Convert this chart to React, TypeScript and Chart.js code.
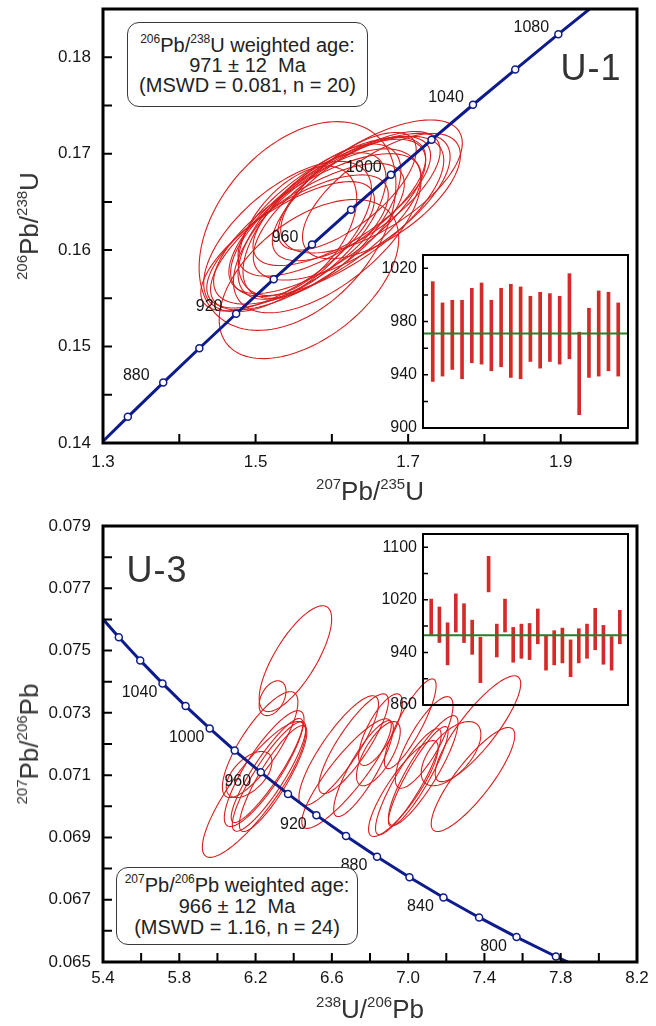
import React, { useEffect, useRef } from 'react';
import { Chart, registerables } from 'chart.js';

Chart.register(...registerables);

const FONT = '"Liberation Sans", Arial, Helvetica, sans-serif';
const RED = '#d81e1e';
const BAR_RED = '#d52a2a';
const BLUE = '#0d1b8c';
const GREEN = '#2a7d2a';
const INK = '#151515';

// ---------------- U-1 : Wetherill concordia ----------------
const u1ConcAges = [840, 860, 880, 900, 920, 940, 960, 980, 1000, 1020, 1040, 1060, 1080, 1100];
const u1ConcX = [1.28707, 1.33257, 1.37897, 1.4263, 1.47456, 1.52378, 1.57399, 1.62519, 1.67741, 1.73067, 1.78499, 1.84039, 1.89689, 1.95451];
const u1ConcY = [0.139176, 0.142715, 0.146266, 0.149828, 0.153401, 0.156985, 0.16058, 0.164187, 0.167804, 0.171433, 0.175073, 0.178724, 0.182387, 0.186061];
const u1ConcLabelAges = [880, 920, 960, 1000, 1040, 1080];

const u1EllX = [1.555, 1.570, 1.652, 1.594, 1.581, 1.568, 1.600, 1.613, 1.555, 1.626, 1.542, 1.587, 1.632, 1.607, 1.574, 1.555, 1.620, 1.665, 1.594, 1.542];
const u1EllY = [0.1625, 0.1570, 0.1666, 0.1635, 0.1622, 0.1614, 0.1645, 0.1651, 0.1609, 0.1645, 0.1604, 0.1630, 0.1656, 0.1635, 0.1625, 0.1620, 0.1661, 0.1656, 0.1620, 0.1614];
const u1EllSX = [0.129, 0.1177, 0.119, 0.129, 0.136, 0.127, 0.123, 0.1164, 0.119, 0.129, 0.1138, 0.1035, 0.110, 0.1397, 0.097, 0.0776, 0.0906, 0.1035, 0.123, 0.110];
const u1EllSY = [0.01082, 0.00825, 0.0069, 0.0080, 0.0078, 0.0076, 0.0072, 0.0067, 0.0069, 0.0076, 0.0067, 0.0080, 0.0067, 0.0083, 0.0076, 0.0067, 0.0061, 0.0065, 0.0085, 0.0078];
const u1EllRho = [0.40, 0.51, 0.65, 0.72, 0.70, 0.72, 0.70, 0.70, 0.70, 0.68, 0.72, 0.65, 0.70, 0.70, 0.65, 0.50, 0.70, 0.65, 0.62, 0.62];

const u1AgeHigh = [1010, 994, 996, 996, 1005, 1009, 996, 1005, 1008, 1006, 999, 1002, 1001, 999, 1016, 972, 990, 1003, 1002, 994];
const u1AgeLow = [935, 939, 944, 937, 949, 948, 943, 946, 938, 937, 950, 945, 950, 948, 952, 910, 938, 939, 943, 939];
const u1Mean = 971;
const u1InsetTicks = [900, 920, 940, 960, 980, 1000, 1020];
const u1InsetTickLabels = [900, 940, 980, 1020];

// ---------------- U-3 : Tera-Wasserburg concordia ----------------
const u3ConcAges = [760, 780, 800, 820, 840, 860, 880, 900, 920, 940, 960, 980, 1000, 1020, 1040, 1060, 1080, 1100];
const u3ConcX = [7.99195, 7.77472, 7.5684, 7.37213, 7.18515, 7.00697, 6.83686, 6.67432, 6.51886, 6.37004, 6.22743, 6.09061, 5.95933, 5.83318, 5.7119, 5.59522, 5.48286, 5.37458];
const u3ConcY = [0.064559, 0.065176, 0.065799, 0.066431, 0.067071, 0.06772, 0.068376, 0.069043, 0.069716, 0.070398, 0.07109, 0.07179, 0.072499, 0.073218, 0.073946, 0.074684, 0.075431, 0.076187];
const u3ConcLabelAges = [800, 840, 880, 920, 960, 1000, 1040];

const u3EllX = [6.409, 6.289, 6.224, 6.192, 6.271, 6.260, 6.292, 6.245, 6.166, 6.636, 6.714, 6.844, 6.677, 6.855, 6.766, 7.366, 7.340, 7.225, 7.001, 7.053, 6.975, 7.079, 7.011, 7.084];
const u3EllY = [0.07474, 0.07347, 0.07198, 0.07054, 0.07096, 0.07115, 0.07089, 0.07121, 0.07102, 0.07179, 0.07201, 0.07169, 0.07105, 0.07246, 0.07121, 0.07249, 0.07086, 0.07169, 0.07079, 0.07096, 0.07057, 0.07115, 0.07265, 0.07205];
const u3EllSX = [0.190, 0.0704, 0.198, 0.271, 0.193, 0.188, 0.177, 0.209, 0.12, 0.2086, 0.1825, 0.1147, 0.2346, 0.1147, 0.1564, 0.2242, 0.219, 0.1564, 0.172, 0.1564, 0.1825, 0.1825, 0.1356, 0.1512];
const u3EllSY = [0.0017, 0.00056, 0.0017, 0.00218, 0.00176, 0.00167, 0.0017, 0.00186, 0.00074, 0.00176, 0.0016, 0.00103, 0.00176, 0.00115, 0.00154, 0.0017, 0.00167, 0.00103, 0.0017, 0.0016, 0.00154, 0.00176, 0.00144, 0.00147];
const u3EllRho = [0.75, 0.4, 0.8, 0.85, 0.88, 0.9, 0.87, 0.85, 0.55, 0.85, 0.85, 0.7, 0.88, 0.75, 0.85, 0.85, 0.85, 0.6, 0.88, 0.9, 0.85, 0.87, 0.85, 0.8];

const u3AgeHigh = [1021, 1009, 985, 1029, 1014, 989, 963, 1086, 983, 1021, 978, 983, 984, 1006, 966, 973, 977, 959, 976, 983, 1007, 981, 964, 1004];
const u3AgeLow = [966, 955, 921, 971, 955, 937, 894, 1032, 933, 971, 925, 931, 929, 953, 913, 921, 924, 903, 924, 931, 944, 922, 913, 953];
const u3Mean = 966;
const u3InsetTicks = [860, 900, 940, 980, 1020, 1060, 1100];
const u3InsetTickLabels = [860, 940, 1020, 1100];

// ---------------- plugins ----------------
function framePlugin(axes: string[], tickLen: number, tickWidth: number, frameWidth: number, fill: string | null) {
  return {
    id: 'frame',
    beforeDraw(chart: any) {
      if (!fill) return;
      const { ctx, chartArea: a } = chart;
      ctx.save();
      ctx.fillStyle = fill;
      ctx.fillRect(a.left, a.top, a.right - a.left, a.bottom - a.top);
      ctx.restore();
    },
    afterDraw(chart: any) {
      const { ctx, chartArea: a } = chart;
      ctx.save();
      ctx.strokeStyle = '#000';
      ctx.lineWidth = tickWidth;
      ctx.beginPath();
      axes.forEach((id) => {
        const s = chart.scales[id];
        s.ticks.forEach((_t: any, i: number) => {
          const p = s.getPixelForTick(i);
          if (s.isHorizontal()) {
            ctx.moveTo(p, a.bottom);
            ctx.lineTo(p, a.bottom - tickLen);
          } else {
            ctx.moveTo(a.left, p);
            ctx.lineTo(a.left + tickLen, p);
          }
        });
      });
      ctx.stroke();
      ctx.lineWidth = frameWidth;
      ctx.strokeRect(a.left, a.top, a.right - a.left, a.bottom - a.top);
      ctx.restore();
    },
  };
}

function ellipsePlugin(cx: number[], cy: number[], sx: number[], sy: number[], rho: number[]) {
  return {
    id: 'ellipses',
    beforeDatasetsDraw(chart: any) {
      const { ctx, chartArea: a } = chart;
      const xs = chart.scales.x;
      const ys = chart.scales.y;
      ctx.save();
      ctx.beginPath();
      ctx.rect(a.left, a.top, a.right - a.left, a.bottom - a.top);
      ctx.clip();
      ctx.strokeStyle = RED;
      ctx.lineWidth = 1.1;
      for (let k = 0; k < cx.length; k++) {
        const r = rho[k];
        const q = Math.sqrt(1 - r * r);
        ctx.beginPath();
        const N = 120;
        for (let s = 0; s <= N; s++) {
          const t = (s / N) * Math.PI * 2;
          const vx = cx[k] + sx[k] * Math.cos(t);
          const vy = cy[k] + sy[k] * (r * Math.cos(t) + q * Math.sin(t));
          const px = xs.getPixelForValue(vx);
          const py = ys.getPixelForValue(vy);
          if (s === 0) ctx.moveTo(px, py);
          else ctx.lineTo(px, py);
        }
        ctx.closePath();
        ctx.stroke();
      }
      ctx.restore();
    },
  };
}

function concLabelPlugin(ages: number[], xs: number[], ys: number[], labelAges: number[], dx: number, dy: number) {
  return {
    id: 'concLabels',
    afterDatasetsDraw(chart: any) {
      const { ctx } = chart;
      const sx = chart.scales.x;
      const sy = chart.scales.y;
      ctx.save();
      ctx.font = `16px ${FONT}`;
      ctx.fillStyle = INK;
      ctx.textAlign = 'center';
      ctx.textBaseline = 'middle';
      labelAges.forEach((age) => {
        const i = ages.indexOf(age);
        if (i < 0) return;
        const px = sx.getPixelForValue(xs[i]) + dx;
        const py = sy.getPixelForValue(ys[i]) + dy;
        ctx.fillText(String(age), px, py);
      });
      ctx.restore();
    },
  };
}

function meanLinePlugin(value: number) {
  return {
    id: 'meanLine',
    afterDatasetsDraw(chart: any) {
      const { ctx, chartArea: a } = chart;
      const py = chart.scales.y.getPixelForValue(value);
      ctx.save();
      ctx.strokeStyle = GREEN;
      ctx.lineWidth = 2;
      ctx.beginPath();
      ctx.moveTo(a.left + 1, py);
      ctx.lineTo(a.right - 1, py);
      ctx.stroke();
      ctx.restore();
    },
  };
}

// ---------------- config builders ----------------
function mainConfig(o: any) {
  return {
    type: 'line',
    data: {
      datasets: [
        {
          data: o.concX.map((x: number, i: number) => ({ x, y: o.concY[i] })),
          borderColor: BLUE,
          borderWidth: 3,
          pointRadius: 3.5,
          pointBackgroundColor: '#fff',
          pointBorderColor: BLUE,
          pointBorderWidth: 1.5,
          tension: 0,
          fill: false,
        },
      ],
    },
    options: {
      responsive: false,
      animation: false,
      devicePixelRatio: 1,
      events: [],
      layout: { padding: { top: o.padTop, right: o.padRight, left: 0, bottom: 0 } },
      plugins: { legend: { display: false }, tooltip: { enabled: false } },
      scales: {
        x: {
          type: 'linear',
          min: o.xMin,
          max: o.xMax,
          grid: { display: false, drawTicks: false },
          border: { display: false },
          ticks: {
            stepSize: o.xStep,
            autoSkip: false,
            maxRotation: 0,
            padding: o.xPad,
            color: INK,
            font: { family: FONT, size: 17 },
            callback: (v: any) => o.xFmt(Number(v)),
          },
          afterFit: (s: any) => {
            s.height = o.xAxisH;
            s.paddingLeft = 0;
            s.paddingRight = 0;
          },
        },
        y: {
          type: 'linear',
          min: o.yMin,
          max: o.yMax,
          grid: { display: false, drawTicks: false },
          border: { display: false },
          ticks: {
            stepSize: o.yStep,
            autoSkip: false,
            padding: 12,
            color: INK,
            font: { family: FONT, size: 17 },
            callback: (v: any) => o.yFmt(Number(v)),
          },
          afterFit: (s: any) => {
            s.width = 103;
            s.paddingTop = 0;
            s.paddingBottom = 0;
          },
        },
      },
    },
    plugins: [
      framePlugin(['x', 'y'], 9, 2, 3, null),
      ellipsePlugin(o.ellX, o.ellY, o.ellSX, o.ellSY, o.ellRho),
      concLabelPlugin(o.concAges, o.concX, o.concY, o.labelAges, o.ldx, o.ldy),
    ],
  };
}

function insetConfig(o: any) {
  return {
    type: 'bar',
    data: {
      datasets: [
        {
          data: o.low.map((lo: number, i: number) => ({ x: i, y: [lo, o.high[i]] })),
          backgroundColor: BAR_RED,
          borderWidth: 0,
          barThickness: 3,
        },
      ],
    },
    options: {
      responsive: false,
      animation: false,
      devicePixelRatio: 1,
      events: [],
      layout: { padding: { top: o.padTop, right: o.padRight, bottom: o.padBottom, left: 0 } },
      plugins: { legend: { display: false }, tooltip: { enabled: false } },
      scales: {
        x: { type: 'linear', min: -1, max: o.low.length, offset: false, display: false },
        y: {
          type: 'linear',
          min: o.yMin,
          max: o.yMax,
          grid: { display: false, drawTicks: false },
          border: { display: false },
          afterBuildTicks: (s: any) => {
            s.ticks = o.ticks.map((v: number) => ({ value: v }));
          },
          ticks: {
            autoSkip: false,
            padding: 6,
            color: INK,
            font: { family: FONT, size: 16 },
            callback: (v: any) => (o.tickLabels.indexOf(Math.round(Number(v))) >= 0 ? String(Math.round(Number(v))) : ''),
          },
          afterFit: (s: any) => {
            s.width = 53;
            s.paddingTop = 0;
            s.paddingBottom = 0;
          },
        },
      },
    },
    plugins: [framePlugin(['y'], 5, 1.5, 2, o.fill), meanLinePlugin(o.mean)],
  };
}

const u1Main = () =>
  mainConfig({
    concAges: u1ConcAges, concX: u1ConcX, concY: u1ConcY, labelAges: u1ConcLabelAges, ldx: -27, ldy: -7,
    ellX: u1EllX, ellY: u1EllY, ellSX: u1EllSX, ellSY: u1EllSY, ellRho: u1EllRho,
    xMin: 1.3, xMax: 2.0, xStep: 0.1, yMin: 0.14, yMax: 0.185, yStep: 0.005,
    xFmt: (v: number) => (Math.round(v * 10) % 2 === 1 ? v.toFixed(1) : ''),
    yFmt: (v: number) => (Math.round(v * 1000) % 10 === 0 ? v.toFixed(2) : ''),
    padTop: 9, padRight: 19, xAxisH: 57, xPad: 9,
  });

const u3Main = () =>
  mainConfig({
    concAges: u3ConcAges, concX: u3ConcX, concY: u3ConcY, labelAges: u3ConcLabelAges, ldx: -23, ldy: 9,
    ellX: u3EllX, ellY: u3EllY, ellSX: u3EllSX, ellSY: u3EllSY, ellRho: u3EllRho,
    xMin: 5.4, xMax: 8.2, xStep: 0.2, yMin: 0.065, yMax: 0.079, yStep: 0.001,
    xFmt: (v: number) => (Math.round(v * 10) % 4 === 2 ? v.toFixed(1) : ''),
    yFmt: (v: number) => (Math.round(v * 1000) % 2 === 1 ? v.toFixed(3) : ''),
    padTop: 26, padRight: 19, xAxisH: 64, xPad: 6,
  });

const u1Inset = () =>
  insetConfig({
    low: u1AgeLow, high: u1AgeHigh, mean: u1Mean, yMin: 900, yMax: 1030,
    ticks: u1InsetTicks, tickLabels: u1InsetTickLabels,
    padTop: 15, padRight: 12, padBottom: 12, fill: '#ffffff',
  });

const u3Inset = () =>
  insetConfig({
    low: u3AgeLow, high: u3AgeHigh, mean: u3Mean, yMin: 860, yMax: 1120,
    ticks: u3InsetTicks, tickLabels: u3InsetTickLabels,
    padTop: 14, padRight: 12, padBottom: 15, fill: null,
  });

// ---------------- components ----------------
function ChartCanvas(props: { left: number; top: number; width: number; height: number; make: () => any }) {
  const ref = useRef<HTMLCanvasElement>(null);
  useEffect(() => {
    const chart = new Chart(ref.current as HTMLCanvasElement, props.make());
    return () => chart.destroy();
  }, []);
  return (
    <canvas
      ref={ref}
      width={props.width}
      height={props.height}
      style={{ position: 'absolute', left: props.left, top: props.top, width: props.width, height: props.height }}
    />
  );
}

function Sup(props: { size: number; children: any }) {
  return (
    <span style={{ fontSize: props.size, position: 'relative', top: '-0.72em', lineHeight: 0 }}>{props.children}</span>
  );
}

function HTitle(props: { cx: number; cy: number; children: any }) {
  return (
    <div
      style={{
        position: 'absolute', left: props.cx - 200, top: props.cy - 13, width: 400, textAlign: 'center',
        fontSize: 26, lineHeight: '26px', color: '#333', whiteSpace: 'nowrap',
      }}
    >
      {props.children}
    </div>
  );
}

function VTitle(props: { cx: number; cy: number; children: any }) {
  return (
    <div
      style={{
        position: 'absolute', left: props.cx, top: props.cy, transform: 'translate(-50%, -50%) rotate(-90deg)',
        fontSize: 26, lineHeight: '26px', color: '#333', whiteSpace: 'nowrap',
      }}
    >
      {props.children}
    </div>
  );
}

function Box(props: { left: number; top: number; width: number; height: number; lh: number; children: any }) {
  return (
    <div
      style={{
        position: 'absolute', left: props.left, top: props.top, width: props.width, height: props.height,
        boxSizing: 'border-box', border: '1.3px solid #3a3a3a', borderRadius: 12, background: '#fff',
        display: 'flex', flexDirection: 'column', justifyContent: 'center', alignItems: 'center',
        fontSize: 20, lineHeight: `${props.lh}px`, color: '#222', whiteSpace: 'nowrap',
      }}
    >
      {props.children}
    </div>
  );
}

function Tag(props: { cx: number; cy: number; text: string }) {
  return (
    <div
      style={{
        position: 'absolute', left: props.cx - 60, top: props.cy - 20, width: 120, textAlign: 'center',
        fontSize: 36, lineHeight: '40px', color: '#333', letterSpacing: 1,
      }}
    >
      {props.text}
    </div>
  );
}

export default function App() {
  return (
    <div
      style={{
        position: 'absolute', left: 0, top: 0, width: 656, height: 1026, overflow: 'hidden',
        background: '#fff', fontFamily: FONT,
      }}
    >
      <ChartCanvas left={0} top={0} width={656} height={500} make={u1Main} />
      <ChartCanvas left={370} top={240} width={270} height={200} make={u1Inset} />
      <ChartCanvas left={0} top={500} width={656} height={526} make={u3Main} />
      <ChartCanvas left={370} top={520} width={270} height={200} make={u3Inset} />

      <VTitle cx={29} cy={226}>
        <Sup size={15}>206</Sup>Pb/<Sup size={15}>238</Sup>U
      </VTitle>
      <HTitle cx={370} cy={491}>
        <Sup size={15}>207</Sup>Pb/<Sup size={15}>235</Sup>U
      </HTitle>
      <VTitle cx={29} cy={744}>
        <Sup size={15}>207</Sup>Pb/<Sup size={15}>206</Sup>Pb
      </VTitle>
      <HTitle cx={370} cy={1009}>
        <Sup size={15}>238</Sup>U/<Sup size={15}>206</Sup>Pb
      </HTitle>

      <Box left={127} top={22} width={241} height={85} lh={20}>
        <div>
          <Sup size={12}>206</Sup>Pb/<Sup size={12}>238</Sup>U weighted age:
        </div>
        <div>971 ± 12{'\u00a0\u00a0'}Ma</div>
        <div>(MSWD = 0.081, n = 20)</div>
      </Box>
      <Box left={116} top={867} width={242} height={78} lh={21}>
        <div>
          <Sup size={12}>207</Sup>Pb/<Sup size={12}>206</Sup>Pb weighted age:
        </div>
        <div>966 ± 12{'\u00a0\u00a0'}Ma</div>
        <div>(MSWD = 1.16, n = 24)</div>
      </Box>

      <Tag cx={591} cy={68} text="U-1" />
      <Tag cx={157} cy={570} text="U-3" />
    </div>
  );
}
